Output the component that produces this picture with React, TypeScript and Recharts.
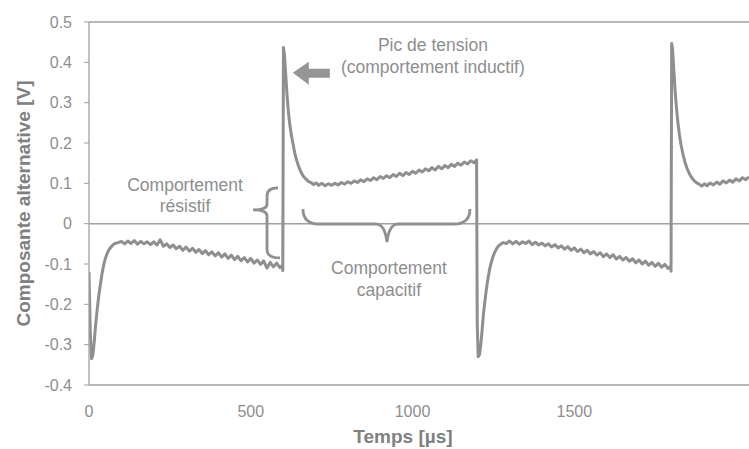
import React from 'react';
import { LineChart, Line, XAxis, YAxis, ReferenceLine, ReferenceDot } from 'recharts';

// ---- data ----
const seg1Time = [0, 4, 8, 12, 16, 20, 25, 30, 35, 40, 45, 50, 55, 60, 65, 70, 75, 80, 90,
  100, 110, 120, 130, 140, 150, 160, 170, 180, 190,
  200, 210, 220, 230, 240, 250, 260, 270, 280, 290,
  300, 310, 320, 330, 340, 350, 360, 370, 380, 390,
  400, 410, 420, 430, 440, 450, 460, 470, 480, 490,
  500, 510, 520, 530, 540, 550, 560, 570, 580, 590, 597];
const seg1Volt = [-0.12, -0.27, -0.335, -0.325, -0.295, -0.255, -0.215, -0.18, -0.152, -0.125, -0.104, -0.088, -0.076, -0.067, -0.061, -0.056, -0.052, -0.049, -0.047,
  -0.044, -0.050, -0.043, -0.049, -0.042, -0.051, -0.044, -0.050, -0.045, -0.052,
  -0.045, -0.053, -0.040, -0.056, -0.050, -0.059, -0.053, -0.062, -0.056, -0.066,
  -0.058, -0.068, -0.061, -0.071, -0.064, -0.074, -0.067, -0.077, -0.070, -0.080,
  -0.072, -0.083, -0.075, -0.086, -0.078, -0.089, -0.081, -0.092, -0.084, -0.095,
  -0.086, -0.098, -0.090, -0.101, -0.092, -0.110, -0.096, -0.107, -0.098, -0.109, -0.104];

const seg2Time = [599, 601, 604, 608, 612, 616, 620, 625, 630, 636, 642, 648, 655, 662, 670, 678, 686, 694, 702, 710, 720, 730, 740,
  750, 760, 770, 780, 790, 800, 810, 820, 830, 840,
  850, 860, 870, 880, 890, 900, 910, 920, 930, 940,
  950, 960, 970, 980, 990, 1000, 1010, 1020, 1030, 1040,
  1050, 1060, 1070, 1080, 1090, 1100, 1110, 1120, 1130, 1140,
  1150, 1160, 1170, 1180, 1190, 1198];
const seg2Volt = [-0.116, 0.437, 0.42, 0.37, 0.32, 0.28, 0.25, 0.222, 0.2, 0.175, 0.157, 0.142, 0.128, 0.118, 0.111, 0.105, 0.102, 0.097, 0.101, 0.095, 0.1, 0.094, 0.099,
  0.095, 0.1, 0.096, 0.102, 0.098, 0.104, 0.1, 0.106, 0.102, 0.109,
  0.104, 0.111, 0.107, 0.114, 0.109, 0.117, 0.112, 0.119, 0.114, 0.122,
  0.117, 0.125, 0.119, 0.127, 0.122, 0.13, 0.125, 0.133, 0.128, 0.136,
  0.131, 0.139, 0.133, 0.142, 0.136, 0.144, 0.139, 0.147, 0.142, 0.15,
  0.145, 0.153, 0.148, 0.156, 0.151, 0.158];

const seg3Time = [1200, 1203, 1207, 1211, 1215, 1219, 1224, 1229, 1234, 1239, 1244, 1249, 1254, 1259, 1264, 1269, 1274, 1280, 1290,
  1300, 1310, 1320, 1330, 1340, 1350, 1360, 1370, 1380, 1390,
  1400, 1410, 1420, 1430, 1440, 1450, 1460, 1470, 1480, 1490,
  1500, 1510, 1520, 1530, 1540, 1550, 1560, 1570, 1580, 1590,
  1600, 1610, 1620, 1630, 1640, 1650, 1660, 1670, 1680, 1690,
  1700, 1710, 1720, 1730, 1740, 1750, 1760, 1770, 1780, 1790, 1798];
const seg3Volt = [-0.25, -0.33, -0.325, -0.3, -0.265, -0.225, -0.19, -0.158, -0.132, -0.11, -0.094, -0.081, -0.071, -0.063, -0.057, -0.053, -0.05, -0.047, -0.049,
  -0.043, -0.05, -0.044, -0.051, -0.045, -0.049, -0.043, -0.052, -0.046, -0.053,
  -0.048, -0.055, -0.05, -0.058, -0.052, -0.06, -0.055, -0.063, -0.057, -0.066,
  -0.06, -0.069, -0.063, -0.072, -0.066, -0.075, -0.069, -0.078, -0.072, -0.082,
  -0.075, -0.084, -0.077, -0.088, -0.081, -0.09, -0.084, -0.093, -0.087, -0.097,
  -0.09, -0.1, -0.093, -0.103, -0.096, -0.106, -0.098, -0.108, -0.101, -0.111, -0.106];

const seg4Time = [1799, 1801, 1804, 1808, 1812, 1816, 1820, 1825, 1830, 1836, 1842, 1848, 1855, 1862, 1870, 1878, 1886, 1894,
  1902, 1910, 1920, 1930, 1940, 1950, 1960, 1970, 1980, 1990, 2000, 2010, 2020, 2030, 2040];
const seg4Volt = [-0.118, 0.447, 0.43, 0.375, 0.325, 0.285, 0.252, 0.22, 0.195, 0.172, 0.153, 0.138, 0.125, 0.115, 0.107, 0.101, 0.098, 0.093,
  0.099, 0.094, 0.101, 0.096, 0.103, 0.098, 0.106, 0.101, 0.108, 0.103, 0.111, 0.106, 0.114, 0.109, 0.116];

const xTicks = [0, 500, 1000, 1500];
const yTicks = [-0.4, -0.3, -0.2, -0.1, 0, 0.1, 0.2, 0.3, 0.4, 0.5];
const xDomain = [0, 2040];
const yDomain = [-0.4, 0.5];

const xTitle = 'Temps [µs]';
const yTitle = 'Composante alternative [V]';
const peakLines = ['Pic de tension', '(comportement inductif)'];
const resistiveLines = ['Comportement', 'résistif'];
const capacitiveLines = ['Comportement', 'capacitif'];

const segments: [number[], number[]][] = [
  [seg1Time, seg1Volt],
  [seg2Time, seg2Volt],
  [seg3Time, seg3Volt],
  [seg4Time, seg4Volt],
];
const data = segments.flatMap(([ts, vs]) => ts.map((t, i) => ({ t, v: vs[i] })));

// ---- styles ----
const FONT = '"Liberation Sans", Arial, Helvetica, sans-serif';
const GREY_TEXT = '#8e8e8e';
const GREY_LINE = '#a0a0a0';
const TRACE = '#8f8f8f';
const annotStyle: React.CSSProperties = { fontFamily: FONT, fontSize: 17.5, fill: GREY_TEXT };
const titleStyle: React.CSSProperties = { fontFamily: FONT, fontSize: 19, fontWeight: 'bold', fill: '#808080' };

const TwoLines = (lines: string[], gap: number) => (props: any) => {
  const { cx, cy } = props;
  return (
    <g>
      <text x={cx} y={cy} textAnchor="middle" style={annotStyle}>{lines[0]}</text>
      <text x={cx} y={cy + gap} textAnchor="middle" style={annotStyle}>{lines[1]}</text>
    </g>
  );
};

const ArrowShape = (props: any) => {
  const { cx, cy } = props;
  const pts = [
    [0, 0], [16, -11], [16, -4], [37, -4], [37, 5], [16, 5], [16, 12],
  ].map(([dx, dy]) => `${cx + dx},${cy + dy}`).join(' ');
  return <polygon points={pts} fill="#959595" />;
};

const VBraceShape = (props: any) => {
  const { cx, cy } = props;
  const d = `M ${cx + 25} ${cy - 22} Q ${cx + 14} ${cy - 22} ${cx + 14} ${cy - 14} L ${cx + 14} ${cy - 6} Q ${cx + 14} ${cy} ${cx} ${cy} Q ${cx + 14} ${cy} ${cx + 14} ${cy + 6} L ${cx + 14} ${cy + 40} Q ${cx + 14} ${cy + 48} ${cx + 27} ${cy + 48}`;
  return <path d={d} fill="none" stroke="#909090" strokeWidth={2.8} />;
};

const HBraceShape = (props: any) => {
  const { cx, cy } = props;
  const d = `M ${cx - 84} ${cy - 33} Q ${cx - 84} ${cy - 18} ${cx - 68} ${cy - 18} L ${cx - 10} ${cy - 18} Q ${cx - 2} ${cy - 17} ${cx} ${cy} Q ${cx + 2} ${cy - 17} ${cx + 10} ${cy - 18} L ${cx + 67} ${cy - 18} Q ${cx + 83} ${cy - 18} ${cx + 83} ${cy - 33}`;
  return <path d={d} fill="none" stroke="#909090" strokeWidth={2.8} />;
};

const XTitle = (props: any) => {
  const vb = props.viewBox || { x: 89, y: 385, width: 660, height: 64 };
  return (
    <text x={vb.x + vb.width / 2 - 16} y={vb.y + vb.height - 6} textAnchor="middle" style={titleStyle}>{xTitle}</text>
  );
};

const YTitle = (props: any) => {
  const vb = props.viewBox || { x: 0, y: 22, width: 89, height: 363 };
  const x = vb.x + 23;
  const y = vb.y + vb.height / 2;
  return (
    <text x={x} y={y} transform={`rotate(-90, ${x}, ${y})`} textAnchor="middle" dominantBaseline="central" style={titleStyle}>{yTitle}</text>
  );
};

export default function App() {
  return (
    <div style={{ position: 'absolute', left: 0, top: 0, width: 749, height: 449, background: '#fff' }}>
      <LineChart width={749} height={449} data={data} margin={{ top: 22, right: 0, bottom: 0, left: 0 }}>
        <XAxis
          dataKey="t"
          type="number"
          domain={xDomain}
          ticks={xTicks}
          allowDataOverflow
          height={64}
          tickLine={false}
          tickSize={0}
          tickMargin={21}
          axisLine={{ stroke: GREY_LINE, strokeWidth: 1.3 }}
          tick={{ fill: GREY_TEXT, fontSize: 16, fontFamily: FONT }}
          label={<XTitle />}
        />
        <YAxis
          type="number"
          domain={yDomain}
          ticks={yTicks}
          allowDataOverflow
          width={89}
          tickSize={5}
          tickMargin={12}
          tickLine={{ stroke: GREY_LINE }}
          axisLine={{ stroke: GREY_LINE, strokeWidth: 1.3 }}
          tick={{ fill: GREY_TEXT, fontSize: 16, fontFamily: FONT }}
          tickFormatter={(v: number) => String(v)}
          label={<YTitle />}
        />
        <ReferenceLine y={0.5} stroke={GREY_LINE} strokeWidth={1.3} />
        <ReferenceLine y={0} stroke={GREY_LINE} strokeWidth={1.5} />
        <Line
          type="linear"
          dataKey="v"
          stroke={TRACE}
          strokeWidth={3}
          strokeLinejoin="round"
          dot={false}
          isAnimationActive={false}
        />
        <ReferenceDot x={1063} y={0.428} r={1} ifOverflow="visible" shape={TwoLines(peakLines, 22)} />
        <ReferenceDot x={630} y={0.374} r={1} ifOverflow="visible" shape={ArrowShape} />
        <ReferenceDot x={297} y={0.081} r={1} ifOverflow="visible" shape={TwoLines(resistiveLines, 21)} />
        <ReferenceDot x={507} y={0.034} r={1} ifOverflow="visible" shape={VBraceShape} />
        <ReferenceDot x={921} y={-0.0455} r={1} ifOverflow="visible" shape={HBraceShape} />
        <ReferenceDot x={927} y={-0.125} r={1} ifOverflow="visible" shape={TwoLines(capacitiveLines, 22)} />
      </LineChart>
    </div>
  );
}
